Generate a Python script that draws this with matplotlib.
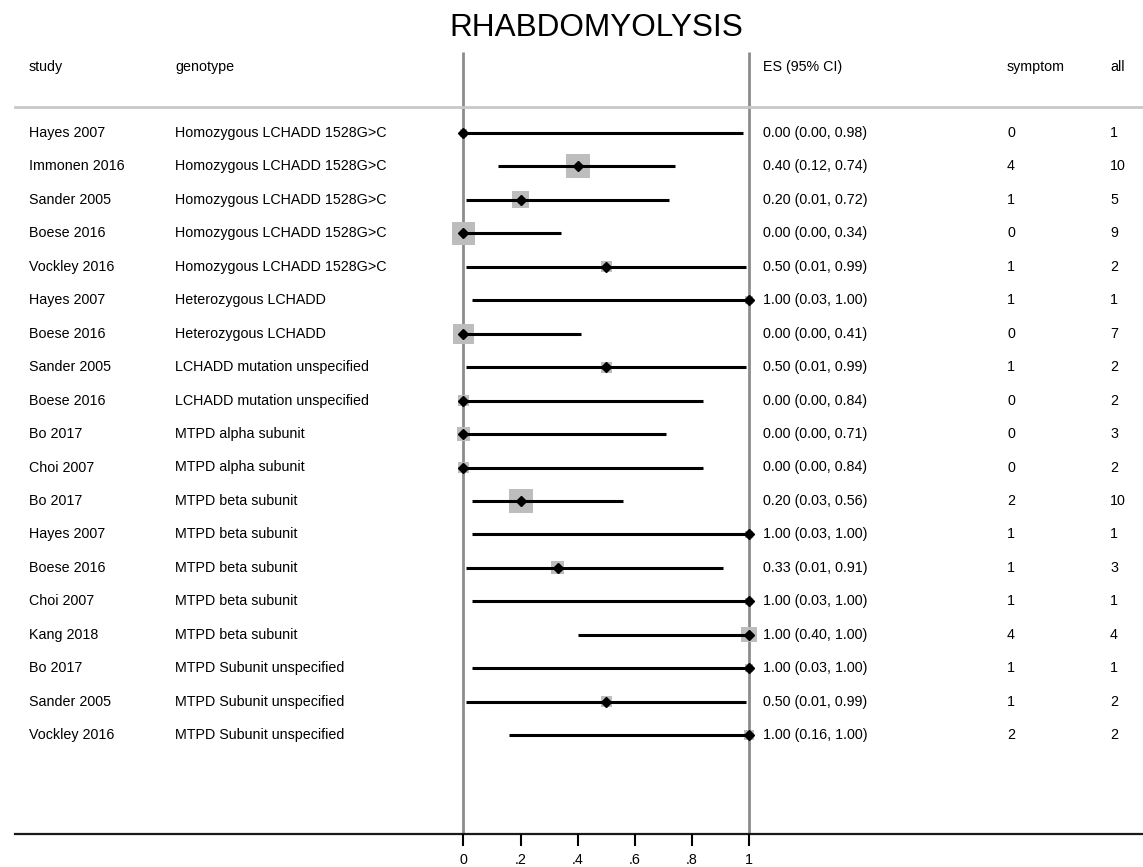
import numpy as np
import matplotlib
matplotlib.use("Agg")
import matplotlib.pyplot as plt
from matplotlib.transforms import blended_transform_factory

plt.rcParams["font.family"] = ["Liberation Sans", "DejaVu Sans"]

# ---- data -------------------------------------------------------------
studies = ["Hayes 2007", "Immonen 2016", "Sander 2005", "Boese 2016", "Vockley 2016",
           "Hayes 2007", "Boese 2016", "Sander 2005", "Boese 2016", "Bo 2017",
           "Choi 2007", "Bo 2017", "Hayes 2007", "Boese 2016", "Choi 2007",
           "Kang 2018", "Bo 2017", "Sander 2005", "Vockley 2016"]
genotypes = (["Homozygous LCHADD 1528G>C"] * 5 + ["Heterozygous LCHADD"] * 2 +
             ["LCHADD mutation unspecified"] * 2 + ["MTPD alpha subunit"] * 2 +
             ["MTPD beta subunit"] * 5 + ["MTPD Subunit unspecified"] * 3)
es = [0.00, 0.40, 0.20, 0.00, 0.50, 1.00, 0.00, 0.50, 0.00, 0.00,
      0.00, 0.20, 1.00, 0.33, 1.00, 1.00, 1.00, 0.50, 1.00]
ci_low = [0.00, 0.12, 0.01, 0.00, 0.01, 0.03, 0.00, 0.01, 0.00, 0.00,
          0.00, 0.03, 0.03, 0.01, 0.03, 0.40, 0.03, 0.01, 0.16]
ci_high = [0.98, 0.74, 0.72, 0.34, 0.99, 1.00, 0.41, 0.99, 0.84, 0.71,
           0.84, 0.56, 1.00, 0.91, 1.00, 1.00, 1.00, 0.99, 1.00]
symptom = [0, 4, 1, 0, 1, 1, 0, 1, 0, 0, 0, 2, 1, 1, 1, 4, 1, 1, 2]
total = [1, 10, 5, 9, 2, 1, 7, 2, 2, 3, 2, 10, 1, 3, 1, 4, 1, 2, 2]
tick_vals = [0, 0.2, 0.4, 0.6, 0.8, 1.0]
tick_labels = ["0", ".2", ".4", ".6", ".8", "1"]

# ---- layout -----------------------------------------------------------
W, H, DPI = 1143, 867, 100
fig = plt.figure(figsize=(W / DPI, H / DPI), dpi=DPI)
ax = fig.add_axes([0, 0, 1, 1])
ax.set_axis_off()

x0_px, unit_px = 463.5, 285.5        # horizontal scale of the effect axis
row0_px, row_px = 133.0, 33.45       # vertical spacing of the study rows
ax.set_xlim(-x0_px / unit_px, (W - x0_px) / unit_px)
ax.set_ylim((H - row0_px) / row_px, -row0_px / row_px)

def row_of(py):
    return (py - row0_px) / row_px

n = len(studies)
rows = np.arange(n)
y_head = row_of(67)
y_sep = row_of(107)
y_axis = row_of(834)
y_vtop = row_of(52)

tr = blended_transform_factory(fig.transFigure, ax.transData)

# reference lines at 0 and 1
ax.vlines([0, 1], y_vtop, y_axis, color="#8c8c8c", lw=2.0, zorder=1)
# header separator
ax.plot([15 / W, 1], [y_sep, y_sep], color="#c8c8c8", lw=2.0, transform=tr, zorder=1)
# bottom axis
ax.plot([15 / W, 1], [y_axis, y_axis], color="#1a1a1a", lw=1.6, transform=tr, zorder=2)
ax.vlines(tick_vals, y_axis, row_of(846), color="black", lw=1.5, zorder=2)
for v, lab in zip(tick_vals, tick_labels):
    ax.text(v, row_of(864), lab, ha="center", va="baseline", fontsize=10.3, color="black")

# weight boxes, CI lines and point estimates
box_side_pt = 7.6 * np.sqrt(np.array(total)) * 0.72
ax.scatter(es, rows, marker="s", s=box_side_pt ** 2, color="#bdbdbd",
           edgecolors="none", zorder=3)
ax.hlines(rows, ci_low, ci_high, color="black", lw=2.2, zorder=4)
ax.plot(es, rows, linestyle="none", marker="D", markersize=5.2,
        color="black", zorder=5)

# text columns
cols = {"study": 29, "genotype": 175, "es": 763, "symptom": 1007, "all": 1110}
fs = 10.3
ax.text(cols["study"] / W, y_head, "study", transform=tr, va="center", fontsize=fs)
ax.text(cols["genotype"] / W, y_head, "genotype", transform=tr, va="center", fontsize=fs)
ax.text(cols["es"] / W, y_head, "ES (95% CI)", transform=tr, va="center", fontsize=fs)
ax.text(cols["symptom"] / W, y_head, "symptom", transform=tr, va="center", fontsize=fs)
ax.text(cols["all"] / W, y_head, "all", transform=tr, va="center", fontsize=fs)

for i in range(n):
    ax.text(cols["study"] / W, i, studies[i], transform=tr, va="center", fontsize=fs)
    ax.text(cols["genotype"] / W, i, genotypes[i], transform=tr, va="center", fontsize=fs)
    ax.text(cols["es"] / W, i, f"{es[i]:.2f} ({ci_low[i]:.2f}, {ci_high[i]:.2f})",
            transform=tr, va="center", fontsize=fs)
    ax.text(cols["symptom"] / W, i, str(symptom[i]), transform=tr, va="center", fontsize=fs)
    ax.text(cols["all"] / W, i, str(total[i]), transform=tr, va="center", fontsize=fs)

fig.text(596 / W, 1 - 28 / H, "RHABDOMYOLYSIS", ha="center", va="center", fontsize=22.7)

fig.savefig("out.png", dpi=DPI)
